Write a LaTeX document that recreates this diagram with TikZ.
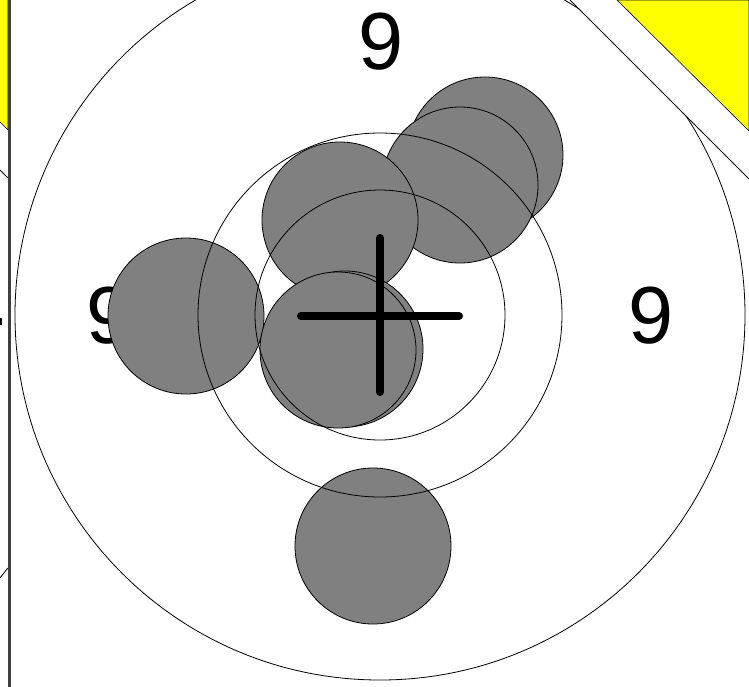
\documentclass[tikz,border=0pt]{standalone}
\usepackage{fontspec}
\setmainfont{Liberation Sans}
\definecolor{shotgray}{HTML}{808080}
\definecolor{cardyellow}{HTML}{FFFF00}
\definecolor{edgegray}{HTML}{404040}
\begin{document}
\begin{tikzpicture}[x=1pt,y=-1pt,
  shot/.style={fill=shotgray,draw=black,line width=0.8pt},
  ring/.style={draw=black,line width=0.8pt},
  digit/.style={font=\fontsize{81}{81}\selectfont,inner sep=0pt,text=black},
  crossline/.style={draw=black,line width=8pt,line cap=round},
  yellowcard/.style={fill=cardyellow,draw=black,line width=0.6pt}]
\useasboundingbox (0,0) rectangle (749,686);
\fill[white] (0,0) rectangle (749,686);
% score numbers
\node[digit] (nineTop) at (381,42) {9};
\node[digit] (nineLeft) at (109,316) {9};
\node[digit] (nineRight) at (651,316) {9};
% shot holes
\fill[shot] (485,155) circle[radius=78pt];
\fill[shot] (460,185) circle[radius=78pt];
\fill[shot] (340,220) circle[radius=78pt];
\fill[shot] (186,316) circle[radius=78pt];
\fill[shot] (345,349) circle[radius=78pt];
\fill[shot] (338,350) circle[radius=78pt];
\fill[shot] (373,546) circle[radius=78pt];
% scoring rings
\coordinate (ctr) at (380,315);
\draw[ring] (ctr) circle[radius=125pt];
\draw[ring] (ctr) circle[radius=182pt];
\draw[ring] (ctr) circle[radius=365pt];
% cut corner top right
\fill[white] (570,0) -- (749,0) -- (749,179) -- cycle;
\draw[ring] (570,0) -- (749,179);
\filldraw[yellowcard] (617,0) -- (749,0) -- (749,131) -- cycle;
% neighbouring card strip at left
\filldraw[yellowcard] (-2,-2) -- (8,-2) -- (8,130) -- (-2,120) -- cycle;
\draw[ring] (-1,169) -- (8,178);
\fill[black] (0,318) rectangle (1.5,325);
\draw[ring] (-1,579) -- (8,568);
\draw[edgegray,line width=3pt] (9,-2) -- (9,688);
% aiming cross
\draw[crossline] (380,238) -- (380,392);
\draw[crossline] (301,316) -- (459,316);
\end{tikzpicture}
\end{document}
